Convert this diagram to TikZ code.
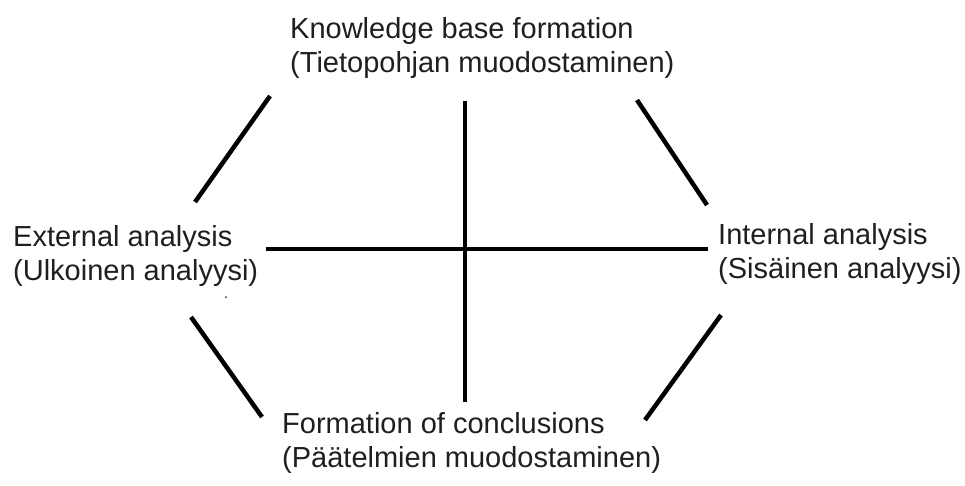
\documentclass[tikz,border=0pt]{standalone}
\usepackage{fontspec}
\setmainfont{Liberation Sans}
\begin{document}
\begin{tikzpicture}[x=1pt,y=-1pt,
  label/.style={anchor=base west,inner sep=0pt,align=left,text=black!88,
    font={\fontsize{29}{34}\selectfont}},
  bar/.style={line width=4.5pt,black}]
  \useasboundingbox (0,0) rectangle (965,485);
  \fill[white] (0,0) rectangle (965,485);

  % the four phases (anchored at the baseline of the second line)
  \node[label] (top)    at (290,72)  {Knowledge base formation\\(Tietopohjan muodostaminen)};
  \node[label] (left)   at (13,280)  {External analysis\\(Ulkoinen analyysi)};
  \node[label] (right)  at (718,278) {Internal analysis\\(Sisäinen analyysi)};
  \node[label] (bottom) at (282,467) {Formation of conclusions\\(Päätelmien muodostaminen)};

  % line ends
  \coordinate (vt) at (465,101);
  \coordinate (vb) at (465,402);
  \coordinate (hl) at (266,249);
  \coordinate (hr) at (708,249);
  \coordinate (tl1) at (195,202); \coordinate (tl2) at (270,96);
  \coordinate (tr1) at (637,100); \coordinate (tr2) at (707,205);
  \coordinate (bl1) at (191,317); \coordinate (bl2) at (262,417);
  \coordinate (br1) at (721,315); \coordinate (br2) at (645,420);

  % central cross
  \draw[bar] (vt) -- (vb);
  \draw[bar] (hl) -- (hr);

  % hexagon sides
  \draw[bar] (tl1) -- (tl2);
  \draw[bar] (tr1) -- (tr2);
  \draw[bar] (bl1) -- (bl2);
  \draw[bar] (br1) -- (br2);

  \fill[black!80] (226,297) circle (1pt);
\end{tikzpicture}
\end{document}
